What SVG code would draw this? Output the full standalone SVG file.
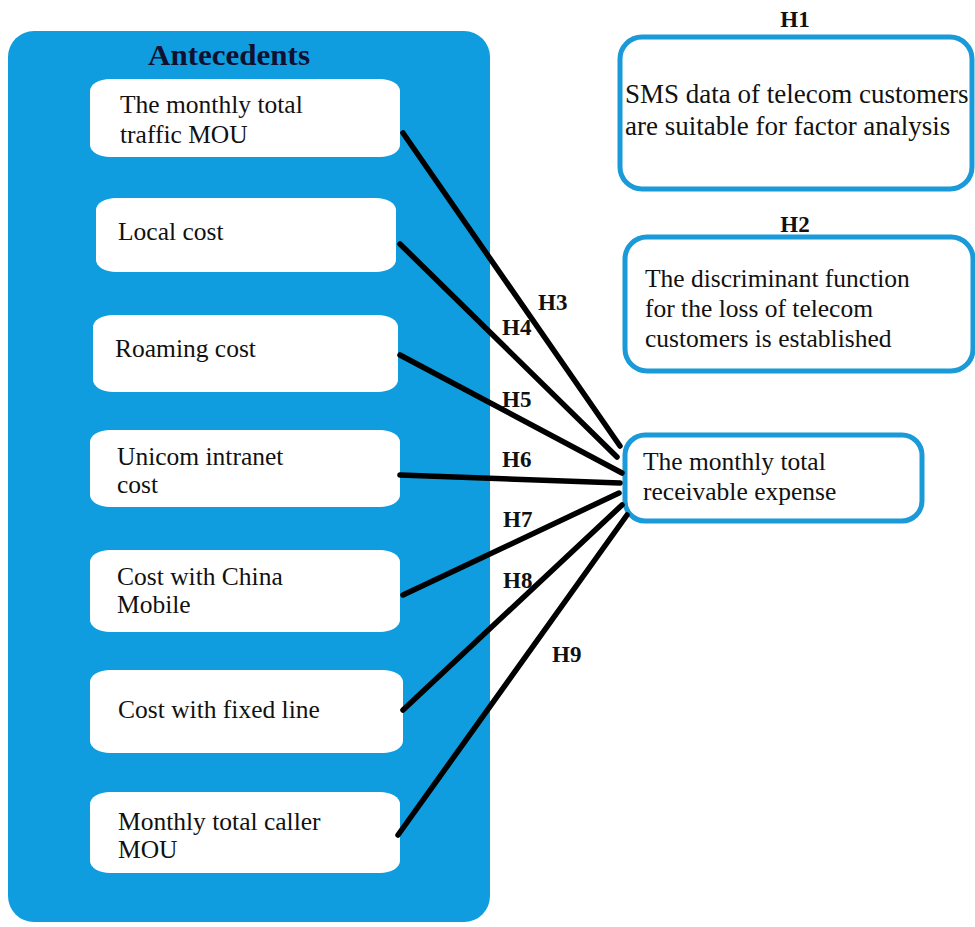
<svg xmlns="http://www.w3.org/2000/svg" width="975" height="927" viewBox="0 0 975 927">
<style>
.t{font-family:"Liberation Serif","Times New Roman",serif;font-size:25.5px;fill:#111}
.b{font-family:"Liberation Serif","Times New Roman",serif;font-weight:bold;fill:#111}
.h{font-size:23px}
.ant{fill:#fff;stroke:none}
.hyp{fill:#fff;stroke:#1a9ad8;stroke-width:5}
.c{stroke:#000;stroke-width:5.5;stroke-linecap:round;fill:none}
</style>
<rect width="975" height="927" fill="#fff"/>
<g id="antecedents">
<rect x="8" y="31" width="482" height="891" rx="26" ry="26" fill="#0f9ddf"/>
<text class="b" x="229" y="65" style="font-size:30px;fill:#101030" text-anchor="middle" textLength="162" lengthAdjust="spacingAndGlyphs">Antecedents</text>
</g>
<g id="n1"><rect class="ant" x="90" y="79" width="310" height="78" rx="20" ry="12"/>
<text class="t" x="120" y="113">The monthly total</text><text class="t" x="120" y="143">traffic MOU</text></g>
<g id="n2"><rect class="ant" x="96" y="198" width="300" height="74" rx="20" ry="12"/>
<text class="t" x="118" y="240">Local cost</text></g>
<g id="n3"><rect class="ant" x="93" y="315" width="305" height="77" rx="20" ry="12"/>
<text class="t" x="115" y="357">Roaming cost</text></g>
<g id="n4"><rect class="ant" x="90" y="430" width="310" height="77" rx="20" ry="12"/>
<text class="t" x="117" y="465">Unicom intranet</text><text class="t" x="117" y="493">cost</text></g>
<g id="n5"><rect class="ant" x="90" y="550" width="310" height="82" rx="20" ry="12"/>
<text class="t" x="117" y="585">Cost with China</text><text class="t" x="117" y="613">Mobile</text></g>
<g id="n6"><rect class="ant" x="90" y="670" width="313" height="83" rx="20" ry="12"/>
<text class="t" x="118" y="718">Cost with fixed line</text></g>
<g id="n7"><rect class="ant" x="90" y="792" width="310" height="81" rx="20" ry="12"/>
<text class="t" x="118" y="830">Monthly total caller</text><text class="t" x="118" y="858">MOU</text></g>
<g id="h1">
<text class="b h" x="795" y="27" text-anchor="middle">H1</text>
<rect class="hyp" x="620" y="37" width="352" height="152" rx="22" ry="22"/>
<text class="t" x="625" y="103" style="font-size:27px">SMS data of telecom customers</text>
<text class="t" x="625" y="135" style="font-size:27px">are suitable for factor analysis</text>
</g>
<g id="h2">
<text class="b h" x="795" y="232" text-anchor="middle">H2</text>
<rect class="hyp" x="625" y="237" width="348" height="134" rx="22" ry="22"/>
<text class="t" x="645" y="287">The discriminant function</text>
<text class="t" x="645" y="317">for the loss of telecom</text>
<text class="t" x="645" y="347">customers is established</text>
</g>
<g id="target">
<rect class="hyp" x="625" y="435" width="297" height="86" rx="20" ry="20"/>
<text class="t" x="643" y="470">The monthly total</text>
<text class="t" x="643" y="500">receivable expense</text>
</g>
<g id="connectors">
<line class="c" x1="403" y1="133" x2="620" y2="446"/>
<line class="c" x1="400" y1="244" x2="617" y2="457"/>
<line class="c" x1="400" y1="355" x2="622" y2="473"/>
<line class="c" x1="400" y1="475" x2="620" y2="483"/>
<line class="c" x1="403" y1="595" x2="619" y2="493"/>
<line class="c" x1="403" y1="710" x2="622" y2="505"/>
<line class="c" x1="398" y1="835" x2="627" y2="515"/>
<text class="b h" x="538" y="310">H3</text>
<text class="b h" x="502" y="335">H4</text>
<text class="b h" x="502" y="407">H5</text>
<text class="b h" x="502" y="467">H6</text>
<text class="b h" x="503" y="527">H7</text>
<text class="b h" x="503" y="588">H8</text>
<text class="b h" x="552" y="662">H9</text>
</g>
</svg>
